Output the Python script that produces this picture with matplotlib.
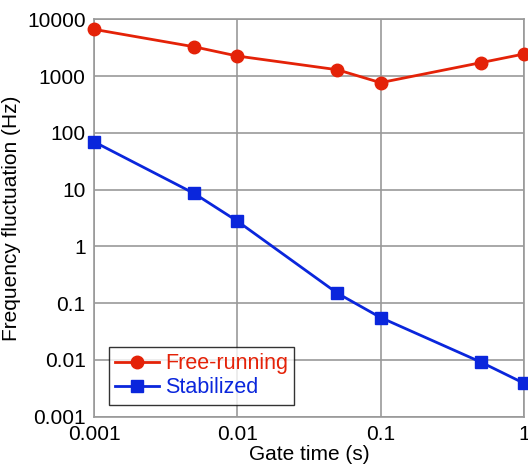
import matplotlib
matplotlib.use("Agg")
import matplotlib.pyplot as plt

plt.rcParams['font.family'] = ['Liberation Sans', 'DejaVu Sans']

gate_time = [0.001, 0.005, 0.01, 0.05, 0.1, 0.5, 1]
free_running = [6700, 3300, 2270, 1300, 770, 1730, 2460]
stabilized = [70, 8.6, 2.8, 0.15, 0.056, 0.0092, 0.0039]
xticks = [0.001, 0.01, 0.1, 1]
xticklabels = ["0.001", "0.01", "0.1", "1"]
yticks = [0.001, 0.01, 0.1, 1, 10, 100, 1000, 10000]
yticklabels = ["0.001", "0.01", "0.1", "1", "10", "100", "1000", "10000"]

red = "#E42208"
blue = "#0A26DC"
gray = "#999999"

fig = plt.figure(figsize=(5.28, 4.68), dpi=100)
ax = fig.add_axes([0.178, 0.1096, 0.814, 0.8488])

ax.plot(gate_time, free_running, color=red, lw=2, marker='o', ms=9,
        label="Free-running", clip_on=False, zorder=3)
ax.plot(gate_time, stabilized, color=blue, lw=2, marker='s', ms=9,
        label="Stabilized", clip_on=False, zorder=3)

ax.set_xscale('log')
ax.set_yscale('log')
ax.set_xlim(0.001, 1)
ax.set_ylim(0.001, 10000)
ax.set_xticks(xticks)
ax.set_xticklabels(xticklabels)
ax.set_yticks(yticks)
ax.set_yticklabels(yticklabels)
ax.minorticks_off()
ax.tick_params(length=0, labelsize=15, pad=6)
ax.grid(True, color=gray, lw=1.2)
for s in ax.spines.values():
    s.set_color(gray)
    s.set_linewidth(1.2)

ax.set_xlabel("Gate time (s)", fontsize=15, labelpad=1)
ax.set_ylabel("Frequency fluctuation (Hz)", fontsize=15, labelpad=4)

leg = ax.legend(loc='lower left', bbox_to_anchor=(0.035, 0.03), fontsize=15.5,
                frameon=True, fancybox=False, edgecolor='black',
                handlelength=2.0, borderpad=0.3, labelspacing=0.15,
                handletextpad=0.3, borderaxespad=0)
leg.get_frame().set_linewidth(1.0)
for txt, c in zip(leg.get_texts(), [red, blue]):
    txt.set_color(c)

fig.savefig("out.png", dpi=100)
